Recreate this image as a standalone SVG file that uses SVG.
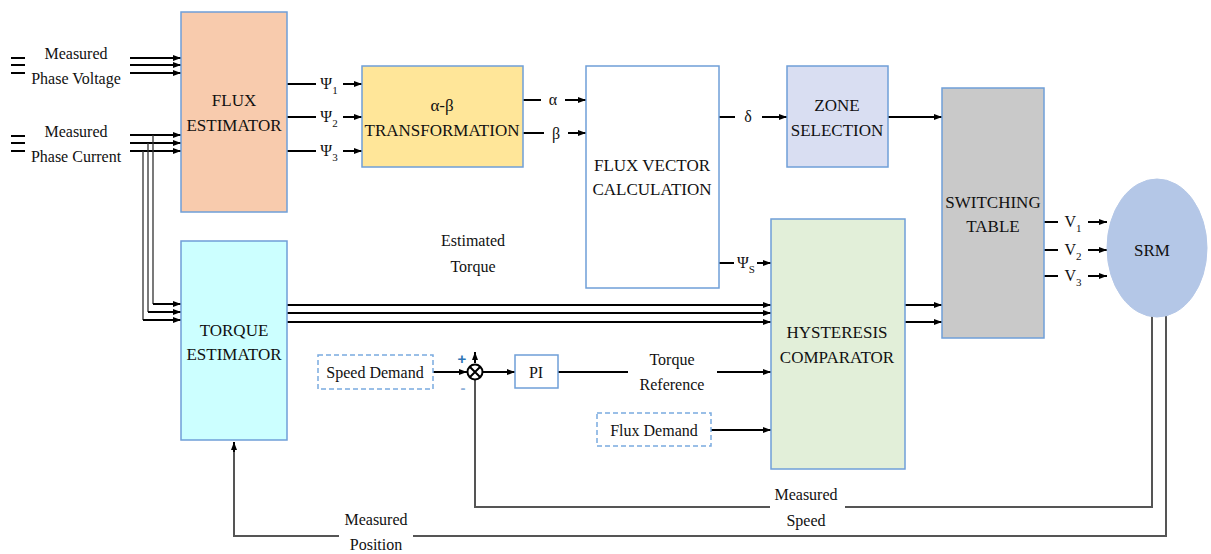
<svg xmlns="http://www.w3.org/2000/svg" width="1211" height="554" viewBox="0 0 1211 554" font-family="Liberation Serif, serif">
<style>
.box{stroke:#6F9FD8;stroke-width:1.5}
.dash{fill:#fff;stroke:#7AAADF;stroke-width:1.5;stroke-dasharray:5,3}
.t{font-size:17px;fill:#111;text-anchor:middle}
.s{font-size:16px;fill:#111;text-anchor:middle}
.ln{fill:none;stroke:#000;stroke-width:2}
.thin{fill:none;stroke:#333;stroke-width:1.3}
.fb{fill:none;stroke:#555;stroke-width:2}
.a{marker-end:url(#arr)}
</style>
<defs>
<marker id="arr" viewBox="0 0 8 6" refX="8" refY="3" markerWidth="8" markerHeight="6" markerUnits="userSpaceOnUse" orient="auto">
<path d="M0,0 L8,3 L0,6 z" fill="#000"/>
</marker>
</defs>
<rect width="1211" height="554" fill="#fff"/>

<g id="connectors">
<path class="ln" d="M11,58 H25 M11,65 H25 M11,73 H25 M11,136 H25 M11,143 H25 M11,151 H25"/>
<path class="ln a" d="M130,58 H181"/>
<path class="ln a" d="M130,65 H181"/>
<path class="ln a" d="M130,73 H181"/>
<path class="ln a" d="M130,135 H181"/>
<path class="ln a" d="M130,143 H181"/>
<path class="ln a" d="M130,151 H181"/>
<path class="thin" d="M153,135 V304 M148,143 V312 M143,151 V320"/>
<path class="ln a" d="M153,304 H181"/>
<path class="ln a" d="M148,312 H181"/>
<path class="ln a" d="M143,320 H181"/>
<path class="ln a" d="M287,305 H771"/>
<path class="ln a" d="M287,313 H771"/>
<path class="ln a" d="M287,322 H771"/>
<path class="ln" d="M287,84 H316 M287,117 H316 M287,151 H316"/>
<path class="ln a" d="M343,84 H362"/>
<path class="ln a" d="M343,117 H362"/>
<path class="ln a" d="M343,151 H362"/>
<path class="ln" d="M523,100 H541 M523,133 H544"/>
<path class="ln a" d="M565,100 H586"/>
<path class="ln a" d="M568,133 H586"/>
<path class="ln" d="M719,117 H735"/>
<path class="ln a" d="M762,117 H787"/>
<path class="ln a" d="M888,117 H942"/>
<path class="ln" d="M719,263 H734"/>
<path class="ln a" d="M757,263 H771"/>
<path class="ln a" d="M905,305 H942"/>
<path class="ln a" d="M905,322 H942"/>
<path class="ln" d="M1044,222 H1058 M1044,250 H1058 M1044,276 H1058"/>
<path class="ln a" d="M1088,222 H1107"/>
<path class="ln a" d="M1088,250 H1107"/>
<path class="ln a" d="M1088,276 H1107"/>
<path class="ln a" d="M433,372 H467"/>
<path class="ln a" d="M483,372 H515"/>
<path class="ln a" d="M475,363 V352"/>
<path class="ln" d="M558,372 H628"/>
<path class="ln a" d="M717,372 H771"/>
<path class="ln a" d="M711,430 H771"/>
<path class="fb" d="M1152,316 V507 H845 M770,507 H475 V380"/>
<path class="fb" d="M1166,316 V536 H413 M339,536 H234 V450"/>
<path class="ln a" d="M234,452 V442"/>
</g>

<g id="flux-estimator">
<rect class="box" x="181" y="12" width="106" height="200" fill="#F8CBAD"/>
<text class="t" x="234" y="106">FLUX</text>
<text class="t" x="234" y="131">ESTIMATOR</text>
</g>
<g id="ab-transformation">
<rect class="box" x="362" y="66" width="161" height="101" fill="#FFE699"/>
<text class="t" x="442" y="111">α-β</text>
<text class="t" x="442" y="136">TRANSFORMATION</text>
</g>
<g id="flux-vector">
<rect class="box" x="586" y="66" width="133" height="222" fill="#fff"/>
<text class="t" x="652" y="171">FLUX VECTOR</text>
<text class="t" x="652" y="195">CALCULATION</text>
</g>
<g id="zone-selection">
<rect class="box" x="787" y="66" width="101" height="101" fill="#D9DEF2"/>
<text class="t" x="837" y="111">ZONE</text>
<text class="t" x="837" y="136">SELECTION</text>
</g>
<g id="switching-table">
<rect class="box" x="942" y="88" width="102" height="250" fill="#C9C9C9"/>
<text class="t" x="993" y="208">SWITCHING</text>
<text class="t" x="993" y="232">TABLE</text>
</g>
<g id="srm">
<ellipse cx="1157" cy="248" rx="50" ry="69" fill="#B4C7E7" stroke="#B4C7E7"/>
<text class="t" x="1152" y="256">SRM</text>
</g>
<g id="torque-estimator">
<rect class="box" x="181" y="241" width="106" height="199" fill="#CCFFFF"/>
<text class="t" x="234" y="336">TORQUE</text>
<text class="t" x="234" y="360">ESTIMATOR</text>
</g>
<g id="hysteresis">
<rect class="box" x="771" y="219" width="134" height="250" fill="#E2EFD9"/>
<text class="t" x="837" y="338">HYSTERESIS</text>
<text class="t" x="837" y="363">COMPARATOR</text>
</g>
<g id="speed-demand">
<rect class="dash" x="318" y="355" width="115" height="34"/>
<text class="s" x="375" y="378">Speed Demand</text>
</g>
<g id="sum">
<circle cx="475" cy="372" r="7.5" fill="#fff" stroke="#000" stroke-width="2"/>
<path d="M470,367 L480,377 M480,367 L470,377" stroke="#000" stroke-width="2"/>
<text x="462" y="364" font-family="Liberation Sans, sans-serif" font-size="15" font-weight="bold" fill="#2E75B6" text-anchor="middle">+</text>
<text x="463" y="393" font-family="Liberation Sans, sans-serif" font-size="15" font-weight="bold" fill="#8FB0D8" text-anchor="middle">-</text>
</g>
<g id="pi">
<rect class="box" x="515" y="355" width="43" height="33" fill="#fff"/>
<text class="s" x="536" y="378">PI</text>
</g>
<g id="flux-demand">
<rect class="dash" x="597" y="413" width="114" height="33"/>
<text class="s" x="654" y="436">Flux Demand</text>
</g>

<g id="labels">
<text class="s" x="76" y="59">Measured</text>
<text class="s" x="76" y="84">Phase Voltage</text>
<text class="s" x="76" y="137">Measured</text>
<text class="s" x="76" y="162">Phase Current</text>
<text class="s" x="329" y="89">Ψ<tspan font-size="11" dy="5">1</tspan></text>
<text class="s" x="329" y="122">Ψ<tspan font-size="11" dy="5">2</tspan></text>
<text class="s" x="329" y="156">Ψ<tspan font-size="11" dy="5">3</tspan></text>
<text class="s" x="553" y="105">α</text>
<text class="s" x="556" y="139">β</text>
<text class="s" x="748" y="122">δ</text>
<text class="s" x="746" y="268">Ψ<tspan font-size="11" dy="5">S</tspan></text>
<text class="s" x="1073" y="227">V<tspan font-size="11" dy="5">1</tspan></text>
<text class="s" x="1073" y="255">V<tspan font-size="11" dy="5">2</tspan></text>
<text class="s" x="1073" y="281">V<tspan font-size="11" dy="5">3</tspan></text>
<text class="s" x="473" y="246">Estimated</text>
<text class="s" x="473" y="272">Torque</text>
<text class="s" x="672" y="365">Torque</text>
<text class="s" x="672" y="390">Reference</text>
<text class="s" x="806" y="500">Measured</text>
<text class="s" x="806" y="526">Speed</text>
<text class="s" x="376" y="525">Measured</text>
<text class="s" x="376" y="550">Position</text>
</g>
</svg>
